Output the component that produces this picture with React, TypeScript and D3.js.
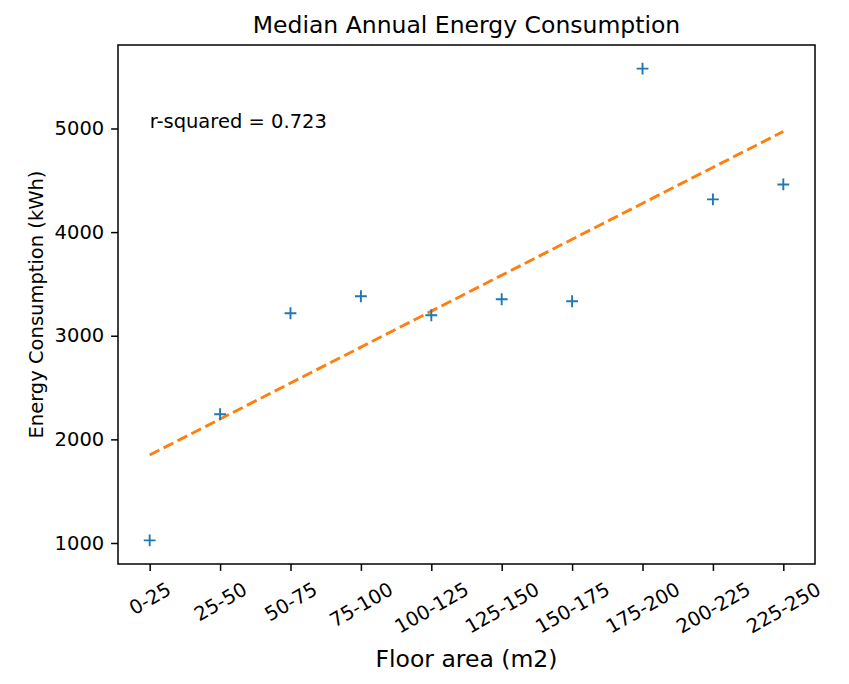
import React, { useEffect, useRef } from 'react';
import * as d3 from 'd3';

// floor area bins and median consumption per bin (kWh)
const categories = ['0-25', '25-50', '50-75', '75-100', '100-125', '125-150', '150-175', '175-200', '200-225', '225-250'];
const medians = [1025, 2243, 3217, 3381, 3198, 3352, 3333, 5578, 4316, 4460];
const yTicks = [1000, 2000, 3000, 4000, 5000];
const rSquaredLabel = 'r-squared = 0.723';

const Chart: React.FC = () => {
  const svgRef = useRef<SVGSVGElement>(null);

  useEffect(() => {
    const width = 849;
    const height = 684;
    const m = { top: 45, right: 34, bottom: 120, left: 118 };
    const font = 'DejaVu Sans, sans-serif';
    const tickFont = 19.5;

    const svg = d3.select(svgRef.current).attr('width', width).attr('height', height);
    svg.selectAll('*').remove();

    const idx = medians.map((_, i) => i);
    const x = d3.scaleLinear().domain([-0.45, 9.45]).range([m.left, width - m.right]);
    const yMin = d3.min(medians)!;
    const yMax = d3.max(medians)!;
    const pad = (yMax - yMin) * 0.05;
    const y = d3.scaleLinear().domain([yMin - pad, yMax + pad]).range([height - m.bottom, m.top]);

    // least squares fit over bin index
    const mx = d3.mean(idx)!;
    const my = d3.mean(medians)!;
    const slope = d3.sum(idx, i => (i - mx) * (medians[i] - my)) / d3.sum(idx, i => (i - mx) ** 2);
    const intercept = my - slope * mx;

    // trend line
    svg.append('path')
      .datum(idx.filter(i => i === 0 || i === idx.length - 1))
      .attr('d', d3.line<number>().x(i => x(i)).y(i => y(intercept + slope * i)))
      .attr('fill', 'none')
      .attr('stroke', '#ff7f0e')
      .attr('stroke-width', 2.9)
      .attr('stroke-dasharray', '10.9,4.7');

    // '+' markers
    const s = 5.9;
    svg.append('g').selectAll('path').data(medians).enter().append('path')
      .attr('d', (d, i) => `M${x(i) - s},${y(d)}H${x(i) + s}M${x(i)},${y(d) - s}V${y(d) + s}`)
      .attr('stroke', '#1f77b4')
      .attr('stroke-width', 1.9)
      .attr('fill', 'none');

    // frame
    svg.append('rect')
      .attr('x', m.left).attr('y', m.top)
      .attr('width', width - m.left - m.right).attr('height', height - m.top - m.bottom)
      .attr('fill', 'none').attr('stroke', '#000').attr('stroke-width', 1.5);

    // y axis
    const yAxis = svg.append('g')
      .attr('transform', `translate(${m.left},0)`)
      .call(d3.axisLeft(y).tickValues(yTicks).tickSize(6.9).tickPadding(6.9).tickFormat(d3.format('d')));
    yAxis.select('.domain').remove();
    yAxis.selectAll('text').attr('font-family', font).attr('font-size', tickFont).attr('fill', '#000');
    yAxis.selectAll('line').attr('stroke-width', 1.5);

    // x axis
    const xAxis = svg.append('g')
      .attr('transform', `translate(0,${height - m.bottom})`)
      .call(d3.axisBottom(x).tickValues(idx).tickSize(6.9).tickFormat(i => categories[i as number]));
    xAxis.select('.domain').remove();
    xAxis.selectAll('line').attr('stroke-width', 1.5);
    xAxis.selectAll<SVGTextElement, number>('text')
      .attr('font-family', font).attr('font-size', tickFont).attr('fill', '#000')
      .attr('dy', null).attr('y', 0)
      .attr('dominant-baseline', 'central')
      .attr('text-anchor', 'middle')
      .each(function () {
        const w = this.getComputedTextLength();
        const h = tickFont * 1.17;
        const ang = Math.PI / 6;
        const boxH = w * Math.sin(ang) + h * Math.cos(ang);
        const cy = 13.8 + boxH / 2;
        d3.select(this).attr('transform', `translate(0,${cy}) rotate(-30)`);
      });

    // annotation
    svg.append('text')
      .attr('x', x(0)).attr('y', y(5000))
      .attr('font-family', font).attr('font-size', tickFont)
      .text(rSquaredLabel);

    // title and labels
    svg.append('text')
      .attr('x', (m.left + width - m.right) / 2).attr('y', 33)
      .attr('text-anchor', 'middle').attr('font-family', font).attr('font-size', 23.5)
      .text('Median Annual Energy Consumption');
    svg.append('text')
      .attr('x', (m.left + width - m.right) / 2).attr('y', 667)
      .attr('text-anchor', 'middle').attr('font-family', font).attr('font-size', 23.5)
      .text('Floor area (m2)');
    svg.append('text')
      .attr('transform', `translate(43,${(m.top + height - m.bottom) / 2}) rotate(-90)`)
      .attr('text-anchor', 'middle').attr('font-family', font).attr('font-size', tickFont)
      .text('Energy Consumption (kWh)');
  }, []);

  return <svg ref={svgRef} style={{ position: 'absolute', left: 0, top: 0 }}></svg>;
};

const App: React.FC = () => <Chart />;

export default App;
